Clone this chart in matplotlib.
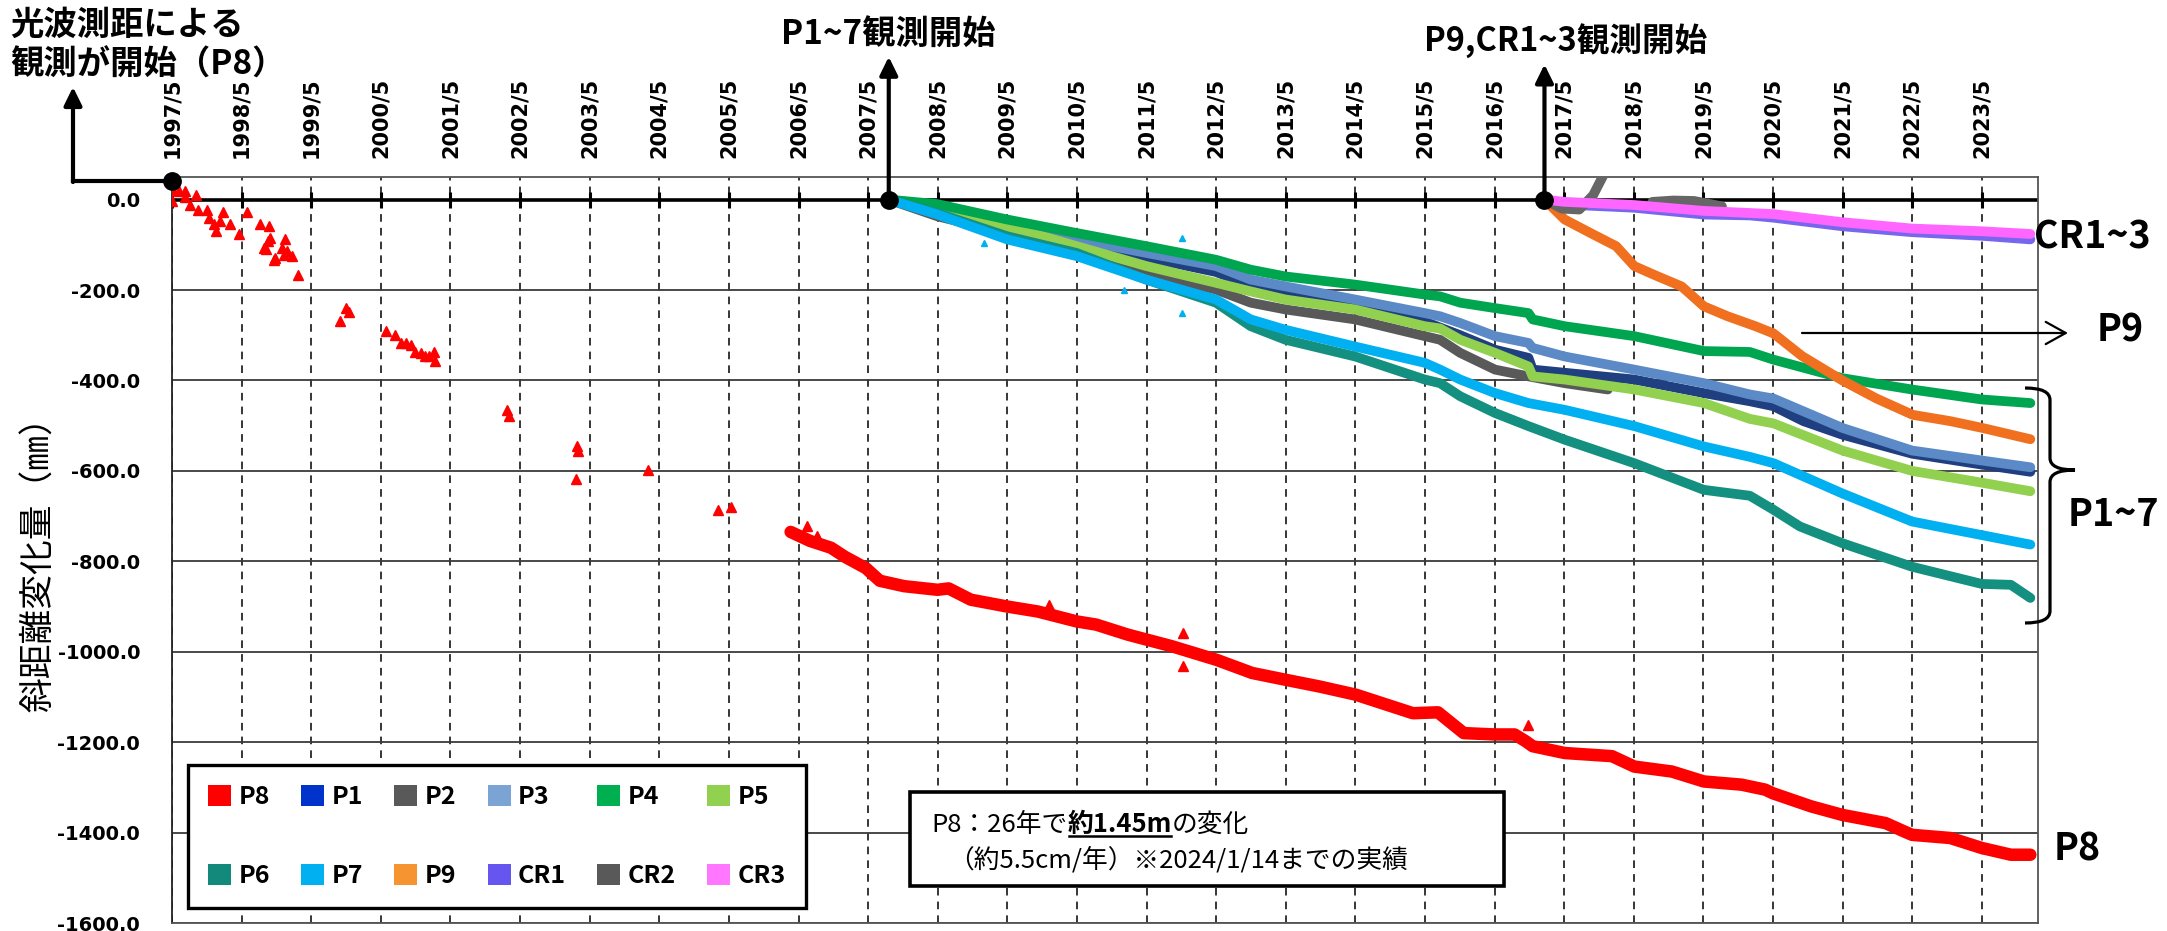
import matplotlib
matplotlib.use("Agg")
import matplotlib.pyplot as plt
import numpy as np
from matplotlib.patches import Patch, Rectangle, PathPatch
from matplotlib.path import Path
from matplotlib.lines import Line2D
from matplotlib.transforms import IdentityTransform

plt.rcParams['font.family'] = ['Noto Sans CJK JP', 'DejaVu Sans']

# ---------------- data (decimal years / mm) ----------------
x_tick_labels = ["1997/5", "1998/5", "1999/5", "2000/5", "2001/5", "2002/5", "2003/5",
                 "2004/5", "2005/5", "2006/5", "2007/5", "2008/5", "2009/5", "2010/5",
                 "2011/5", "2012/5", "2013/5", "2014/5", "2015/5", "2016/5", "2017/5",
                 "2018/5", "2019/5", "2020/5", "2021/5", "2022/5", "2023/5"]
y_ticks = [0, -200, -400, -600, -800, -1000, -1200, -1400, -1600]

# P8 early sparse survey points
P8_early_x = [1997.33, 1997.35, 1997.44, 1997.52, 1997.52, 1997.68, 1997.59, 1997.70, 1997.83,
              1997.87, 1997.94, 1997.97, 1998.02, 1998.07, 1998.16, 1998.30, 1998.41, 1998.60,
              1998.72, 1998.74, 1998.71, 1998.65, 1998.68, 1998.81, 1998.80, 1998.91, 1998.94,
              1998.96, 1998.99, 1999.06, 1999.15, 1999.75, 1999.83, 1999.87, 2000.41, 2000.54,
              2000.62, 2000.69, 2000.76, 2000.83, 2000.91, 2000.97, 2001.02, 2001.09, 2001.11,
              2002.14, 2002.17, 2003.15, 2003.16, 2003.13, 2004.17, 2005.18, 2005.37]
P8_early_y = [-2, 22, 18, 18, 6, 11, -13, -24, -22,
              -40, -53, -70, -48, -28, -53, -75, -28, -53,
              -59, -85, -92, -107, -109, -129, -134, -107, -122,
              -88, -114, -125, -167, -269, -240, -249, -291, -299,
              -318, -318, -321, -336, -339, -345, -347, -338, -358,
              -465, -479, -546, -557, -618, -597, -686, -679]

# P8 continuous measurement
P8_x = [2006.22, 2006.5, 2006.8, 2007.0, 2007.3, 2007.5, 2007.85, 2008.33, 2008.49, 2008.81,
        2009.33, 2009.77, 2010.33, 2010.61, 2011.06, 2011.33, 2011.70, 2012.34, 2012.85,
        2013.33, 2013.82, 2014.34, 2014.78, 2015.16, 2015.52, 2015.89, 2016.34, 2016.62,
        2016.78, 2016.88, 2017.34, 2018.02, 2018.34, 2018.88, 2019.34, 2019.88, 2020.22,
        2020.33, 2020.88, 2021.33, 2021.95, 2022.21, 2022.33, 2022.88, 2023.33, 2023.75, 2024.03]
P8_y = [-735, -755, -770, -790, -815, -843, -855, -863, -860, -885,
        -900, -911, -933, -940, -962, -973, -988, -1018, -1047,
        -1062, -1077, -1095, -1117, -1136, -1134, -1180, -1183, -1183,
        -1198, -1209, -1224, -1231, -1254, -1265, -1287, -1294, -1305,
        -1313, -1342, -1361, -1379, -1397, -1405, -1412, -1434, -1449, -1449]
P8_out_x = [2006.45, 2006.6, 2009.93, 2011.86, 2011.86, 2016.82]
P8_out_y = [-722, -745, -896, -959, -1032, -1161]

P1_x = [2007.63, 2008.33, 2009.33, 2010.33, 2011.33, 2012.33, 2012.83, 2013.33, 2014.33, 2015.33,
        2015.84, 2016.34, 2016.82, 2016.88, 2017.34, 2018.34, 2019.34, 2020.0, 2020.34, 2020.77,
        2021.33, 2022.33, 2023.33, 2024.03]
P1_y = [0, -22, -64, -95, -128, -160, -190, -205, -235, -270,
        -300, -332, -350, -376, -383, -398, -428, -446, -457, -490,
        -520, -562, -586, -602]

P2_x = [2007.63, 2008.33, 2009.33, 2010.33, 2011.33, 2012.33, 2012.83, 2013.33, 2014.33, 2015.33,
        2015.55, 2015.84, 2016.34, 2016.82, 2017.34, 2017.96]
P2_y = [0, -37, -74, -111, -162, -199, -228, -243, -265, -302,
        -310, -339, -376, -391, -406, -420]

P3_x = [2007.63, 2008.33, 2009.33, 2010.33, 2011.33, 2012.33, 2012.83, 2013.33, 2014.33, 2015.33,
        2015.55, 2015.84, 2016.34, 2016.82, 2016.88, 2017.34, 2018.34, 2019.34, 2020.0, 2020.34,
        2021.33, 2022.33, 2023.33, 2024.03]
P3_y = [0, -18, -59, -88, -118, -147, -177, -192, -221, -251,
        -258, -273, -302, -317, -328, -347, -376, -406, -431, -440,
        -505, -555, -577, -592]

P4_x = [2007.63, 2008.33, 2009.33, 2010.33, 2011.33, 2012.33, 2012.83, 2013.33, 2014.33, 2015.33,
        2015.55, 2015.84, 2016.34, 2016.82, 2016.88, 2017.34, 2018.34, 2019.34, 2020.0, 2020.34,
        2021.33, 2022.33, 2023.33, 2024.03]
P4_y = [0, -10, -44, -74, -103, -133, -155, -170, -188, -210,
        -214, -228, -240, -251, -265, -280, -302, -335, -337, -354,
        -395, -420, -442, -450]

P5_x = [2007.63, 2008.33, 2009.33, 2009.68, 2010.33, 2011.33, 2012.33, 2012.83, 2013.33, 2014.33,
        2015.33, 2015.55, 2015.84, 2016.34, 2016.82, 2016.88, 2017.34, 2018.34, 2019.34, 2020.0,
        2020.34, 2021.33, 2022.33, 2023.33, 2024.03]
P5_y = [0, -22, -63, -74, -103, -147, -184, -203, -221, -243,
        -280, -285, -310, -339, -369, -391, -398, -420, -450, -485,
        -495, -555, -600, -626, -645]

P6_x = [2007.63, 2008.33, 2009.33, 2010.33, 2011.33, 2012.33, 2012.83, 2013.33, 2014.33, 2015.33,
        2015.55, 2015.84, 2016.34, 2016.82, 2017.34, 2018.34, 2019.34, 2020.0, 2020.34, 2020.72,
        2021.33, 2022.33, 2023.33, 2023.75, 2024.03]
P6_y = [0, -30, -81, -118, -177, -228, -280, -310, -347, -398,
        -406, -435, -472, -501, -531, -583, -642, -655, -686, -723,
        -760, -812, -850, -852, -881]

P7_x = [2007.63, 2008.33, 2009.33, 2010.33, 2011.33, 2012.33, 2012.83, 2013.33, 2014.33, 2015.33,
        2015.55, 2015.84, 2016.34, 2016.82, 2017.34, 2018.34, 2019.34, 2020.0, 2020.34, 2021.33,
        2022.33, 2023.33, 2024.03]
P7_y = [0, -33, -88, -125, -177, -221, -265, -288, -325, -361,
        -376, -398, -428, -450, -465, -501, -546, -569, -583, -650,
        -712, -742, -763]
P7_out_x = [2011.84, 2011.84, 2011.01, 2009.0]
P7_out_y = [-85, -250, -199, -95]

P9_x = [2017.05, 2017.34, 2017.75, 2018.08, 2018.34, 2018.68, 2019.02, 2019.34, 2019.68, 2020.08,
        2020.34, 2020.75, 2021.33, 2021.82, 2022.34, 2022.88, 2023.34, 2024.03]
P9_y = [0, -44, -77, -103, -147, -170, -192, -236, -258, -280,
        -296, -346, -400, -440, -476, -490, -505, -530]

CR1_x = [2017.05, 2017.34, 2018.34, 2019.34, 2020.0, 2020.34, 2021.33, 2022.33, 2023.33, 2024.03]
CR1_y = [0, -11, -18, -33, -35, -40, -59, -72, -80, -88]

CR2_x = [2017.05, 2017.30, 2017.55, 2017.75, 2017.90, np.nan, 2018.60, 2018.90, 2019.20, 2019.60]
CR2_y = [0, -20, -22, 10, 55, np.nan, -5, -2, -3, -15]

CR3_x = [2017.05, 2017.34, 2018.34, 2019.34, 2020.34, 2021.33, 2022.33, 2023.33, 2024.03]
CR3_y = [0, -5, -12, -25, -32, -50, -64, -70, -76]

# start-of-observation markers
start_x = [1997.333, 2007.63, 2017.05]
start_y = [42, 0, 0]

# ---------------- figure ----------------
W, H = 2167, 931
fig = plt.figure(figsize=(W / 100, H / 100), dpi=100)
fig.patch.set_facecolor('white')
ax = fig.add_axes([172 / W, 1 - 923 / H, 1866 / W, 746 / H])


def FX(px):
    return px / W


def FY(py):
    return 1 - py / H


def AX(px):
    return (px - 172) / 1866


def AY(py):
    return (923 - py) / 746


x_tick_pos = [int(s.split('/')[0]) + (int(s.split('/')[1]) - 1) / 12 for s in x_tick_labels]

ax.set_xlim(1997.333, 2024.14)
ax.set_ylim(-1600, 50)

ax.set_xticks(x_tick_pos)
ax.set_xticklabels(x_tick_labels, rotation=90)
ax.set_yticks(y_ticks)
ax.set_yticklabels([f"{v:.1f}" for v in y_ticks])
ax.xaxis.tick_top()
ax.tick_params(axis='x', length=0, pad=14, labelsize=15)
ax.tick_params(axis='y', length=0, pad=23, labelsize=14)
for lab in ax.get_xticklabels() + ax.get_yticklabels():
    lab.set_fontfamily('DejaVu Sans')
    lab.set_fontweight('bold')
ax.grid(axis='y', color='#3a3a3a', lw=1.3, ls='-', zorder=0)
ax.grid(axis='x', color='black', lw=1.1, ls=(0, (5, 4)), zorder=0)
ax.set_axisbelow(True)
for s in ['top', 'right', 'bottom']:
    ax.spines[s].set_color('#555555')
    ax.spines[s].set_linewidth(1.3)
ax.spines['left'].set_color('#222222')
ax.spines['left'].set_linewidth(1.3)

ax.axhline(0, color='black', lw=2.6, zorder=1)
ax.plot(x_tick_pos, [0] * len(x_tick_pos), ls='none', marker='|', ms=11, mew=2.2,
        color='black', zorder=1)

# ---------------- series ----------------
LW = 7
ax.plot(P8_x, P8_y, color='#FF0000', lw=9, solid_capstyle='round', solid_joinstyle='round', zorder=3)
ax.plot(P8_early_x, P8_early_y, ls='none', marker='^', ms=7, color='#FF0000', zorder=3)
ax.plot(P8_out_x, P8_out_y, ls='none', marker='^', ms=7, color='#FF0000', zorder=3)

series = [
    (P1_x, P1_y, '#1F3F80'),
    (P2_x, P2_y, '#595959'),
    (P3_x, P3_y, '#5B8AC6'),
    (P5_x, P5_y, '#92D050'),
    (P4_x, P4_y, '#00A550'),
    (P6_x, P6_y, '#139080'),
    (P7_x, P7_y, '#00B0F0'),
    (P9_x, P9_y, '#F07020'),
    (CR1_x, CR1_y, '#7766EE'),
    (CR2_x, CR2_y, '#666666'),
    (CR3_x, CR3_y, '#FF66FF'),
]
for i, (xs, ys, c) in enumerate(series):
    ax.plot(xs, ys, color=c, lw=LW, solid_capstyle='round', solid_joinstyle='round',
            zorder=4 + i * 0.1)
ax.plot(P7_out_x, P7_out_y, ls='none', marker='^', ms=5, color='#00B0F0', zorder=5)

ax.plot(start_x, start_y, 'o', color='black', ms=12.5, clip_on=False, zorder=20)

# ---------------- arrows ----------------
head = dict(arrowstyle='-|>,head_length=0.55,head_width=0.27', mutation_scale=20,
            lw=3, color='black', shrinkA=0, shrinkB=0)
ax.add_line(Line2D([FX(73), FX(168)], [FY(181), FY(181)], transform=fig.transFigure,
                   color='black', lw=3, clip_on=False))
ax.annotate('', xy=(FX(73), FY(87)), xytext=(FX(73), FY(182)), xycoords='figure fraction',
            arrowprops=head, annotation_clip=False)
ax.annotate('', xy=(start_x[1], 316), xytext=(start_x[1], 0), xycoords='data',
            arrowprops=head, annotation_clip=False, zorder=19)
ax.annotate('', xy=(start_x[2], 299), xytext=(start_x[2], 0), xycoords='data',
            arrowprops=head, annotation_clip=False, zorder=19)
ax.annotate('', xy=(FX(2068), FY(333)), xytext=(FX(1802), FY(333)), xycoords='figure fraction',
            arrowprops=dict(arrowstyle='->,head_length=0.72,head_width=0.4', mutation_scale=20,
                            lw=1.6, color='black', shrinkA=0, shrinkB=0),
            annotation_clip=False)

# brace for P1~7
x0, xv, xt = 2025, 2050, 2075
yt, ym, yb, r = 388, 470, 623, 12
pts = [(x0, yt), (xv, yt), (xv, yt + r), (xv, ym - r), (xv, ym), (xt, ym),
       (xv, ym), (xv, ym + r), (xv, yb - r), (xv, yb), (x0, yb)]
codes = [Path.MOVETO, Path.CURVE3, Path.CURVE3, Path.LINETO, Path.CURVE3, Path.CURVE3,
         Path.CURVE3, Path.CURVE3, Path.LINETO, Path.CURVE3, Path.CURVE3]
brace = Path([(FX(a), FY(b)) for a, b in pts], codes)
fig.add_artist(PathPatch(brace, transform=fig.transFigure, fill=False, lw=2.3, color='black'))

# ---------------- texts ----------------
fig.text(FX(10), FY(25), "光波測距による", fontsize=24, fontweight='bold', ha='left', va='center')
fig.text(FX(10), FY(65), "観測が開始（P8）", fontsize=24, fontweight='bold', ha='left', va='center')
fig.text(FX(888), FY(34), "P1~7観測開始", fontsize=24, fontweight='bold', ha='center', va='center')
fig.text(FX(1566), FY(41), "P9,CR1~3観測開始", fontsize=23.5, fontweight='bold', ha='center', va='center')
fig.text(FX(2092), FY(237), "CR1~3", fontsize=27, fontweight='bold', ha='center', va='center')
fig.text(FX(2120), FY(330), "P9", fontsize=27, fontweight='bold', ha='center', va='center')
fig.text(FX(2113), FY(515), "P1~7", fontsize=27, fontweight='bold', ha='center', va='center')
fig.text(FX(2077), FY(849), "P8", fontsize=27, fontweight='bold', ha='center', va='center')
fig.text(FX(40), FY(556), "斜距離変化量（㎜）", fontsize=25, rotation=90,
         ha='center', va='center')

# ---------------- legend ----------------
leg_names = ['P8', 'P1', 'P2', 'P3', 'P4', 'P5', 'P6', 'P7', 'P9', 'CR1', 'CR2', 'CR3']
leg_colors = ['#FF0000', '#0033CC', '#595959', '#7BA3D4', '#00B050', '#92D050',
              '#12897A', '#00B0F0', '#F79432', '#6655EE', '#595959', '#FF77FF']
handles = [Patch(facecolor=c, edgecolor='none', label=n) for n, c in zip(leg_names, leg_colors)]
order = [0, 6, 1, 7, 2, 8, 3, 9, 4, 10, 5, 11]
leg = ax.legend([handles[i] for i in order], [leg_names[i] for i in order], ncol=6,
                loc='lower left', bbox_to_anchor=(AX(188), AY(908), AX(806) - AX(188), 0.19),
                mode='expand', borderaxespad=0, prop={'weight': 'bold', 'size': 18},
                handlelength=0.92, handleheight=0.88, handletextpad=0.3, labelspacing=2.2,
                borderpad=0.8, fancybox=False, framealpha=1, edgecolor='black')
leg.get_frame().set_linewidth(2.4)
leg.set_zorder(30)

# ---------------- note box ----------------
ax.add_patch(Rectangle((AX(910), AY(886)), AX(1504) - AX(910), AY(792) - AY(886),
                       transform=ax.transAxes, facecolor='white', edgecolor='black', lw=2.6,
                       zorder=30, clip_on=False))
t1 = ax.text(AX(931), AY(832), "P8：26年で", transform=ax.transAxes, fontsize=18.5,
             ha='left', va='baseline', zorder=31)
t2 = ax.annotate("約1.45m", xy=(1, 0), xycoords=t1, fontsize=18.5, fontweight='bold',
                 ha='left', va='bottom', zorder=31, annotation_clip=False)
t3 = ax.annotate("の変化", xy=(1, 0), xycoords=t2, fontsize=18.5,
                 ha='left', va='bottom', zorder=31, annotation_clip=False)
ax.text(AX(948), AY(867), "（約5.5cm/年）※2024/1/14までの実績", transform=ax.transAxes,
        fontsize=18.5, ha='left', va='baseline', zorder=31)

fig.canvas.draw()
bb = t2.get_window_extent()
fig.add_artist(Line2D([bb.x0 + 2, bb.x1 - 1], [bb.y0 + 2, bb.y0 + 2], transform=IdentityTransform(),
                      color='black', lw=1.8))

fig.savefig('out.png', dpi=100, facecolor='white')
